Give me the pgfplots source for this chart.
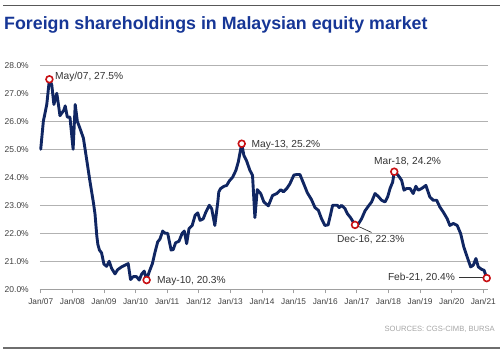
\documentclass[border=0pt]{standalone}
\usepackage{pgfplots}
\pgfplotsset{compat=1.18}
\usepackage{pgfplotstable}
\usepackage{fontspec}
\setmainfont{Liberation Sans}
\definecolor{titleblue}{RGB}{22,54,150}
\definecolor{navy}{RGB}{16,38,98}
\definecolor{mkred}{RGB}{200,16,20}
\definecolor{gridgray}{RGB}{178,178,178}
\definecolor{ticktext}{RGB}{64,64,64}
\definecolor{annot}{RGB}{51,51,51}
\definecolor{srcgray}{RGB}{165,165,165}
\definecolor{rulegray}{RGB}{110,110,110}

\pgfplotstableread{
m v
0.0 25.0
1.0 26.0
2.3 26.6
3.3 27.5
4.2 27.3
5.0 26.6
6.1 27.0
6.8 26.55
7.3 26.2
8.8 26.4
9.3 26.55
10.1 26.15
11.1 26.15
12.3 25.0
13.1 26.6
13.9 26.0
14.9 25.75
16.2 25.4
17.5 24.6
18.7 23.85
20.0 23.1
20.6 22.7
21.3 21.9
21.7 21.6
22.3 21.4
23.1 21.3
24.0 20.9
25.0 20.82
26.0 21.0
26.9 20.75
28.2 20.55
29.2 20.7
30.7 20.8
32.0 20.86
33.2 20.92
34.1 20.35
35.1 20.45
36.4 20.45
37.4 20.33
38.3 20.54
39.3 20.65
40.2 20.33
41.1 20.6
42.4 20.92
43.4 21.33
44.4 21.69
45.3 21.8
46.3 22.08
47.2 22.0
48.2 22.0
49.5 21.4
50.3 21.42
51.2 21.66
52.5 21.72
53.7 22.0
54.5 22.08
55.4 21.63
56.3 22.17
57.5 22.28
58.6 22.64
59.6 22.73
60.5 22.46
61.7 22.52
62.7 22.76
64.0 23.0
64.9 22.88
66.1 22.28
67.2 23.1
67.6 23.48
68.3 23.6
69.6 23.68
70.6 23.71
71.6 23.87
72.9 24.01
74.1 24.25
75.0 24.55
76.3 25.2
77.1 24.79
78.1 24.6
79.4 24.25
80.4 24.07
81.3 22.56
82.2 23.56
83.5 23.42
84.7 23.12
86.4 22.98
88.0 23.35
89.6 23.42
91.1 23.56
92.1 23.48
93.4 23.6
94.6 23.77
96.1 24.08
97.2 24.1
98.4 24.1
99.7 23.8
101.2 23.45
102.8 23.2
104.1 22.92
105.4 22.82
106.6 22.52
107.9 22.28
109.1 22.3
110.1 22.7
110.8 23.0
112.6 23.0
113.3 22.92
114.2 23.0
115.5 22.88
116.4 22.7
117.6 22.56
119.3 22.3
120.5 22.32
121.8 22.52
123.1 22.8
124.3 22.96
125.6 23.12
126.9 23.42
128.1 23.32
129.4 23.18
130.7 23.12
131.7 23.3
132.6 23.6
133.6 23.83
134.2 24.2
135.7 24.07
137.0 23.89
137.9 23.54
138.9 23.6
140.2 23.6
141.4 23.42
142.4 23.68
143.3 23.54
144.6 23.6
146.2 23.71
147.7 23.3
149.0 23.18
150.3 23.18
151.5 22.94
152.8 22.76
154.3 22.52
155.3 22.28
156.6 22.35
158.1 22.28
159.4 21.99
160.6 21.51
162.3 21.04
163.2 20.8
164.2 20.86
165.2 21.1
166.1 20.8
167.4 20.71
168.3 20.68
169.3 20.4
}\fsdata

\pgfplotstableread{
m v
3.3 27.5
40.2 20.33
76.3 25.2
119.3 22.3
134.2 24.2
169.3 20.4
}\marks

\begin{document}
\begin{tikzpicture}[x=1pt,y=1pt]
\path[use as bounding box] (0,0) rectangle (500,361);
\draw[rulegray!80!black, line width=1pt] (3,355) -- (500,355);
\node[anchor=base west, inner sep=0pt, font=\fontsize{17.8}{20}\selectfont\bfseries, text=titleblue] at (4,331.7) {Foreign shareholdings in Malaysian equity market};
\begin{axis}[
  at={(40pt,71.7pt)}, anchor=south west,
  scale only axis, width=448.3pt, height=224pt,
  xmin=-0.27, xmax=169.9, ymin=20, ymax=28,
  clip=false,
  axis x line*=bottom, axis y line*=left,
  y axis line style={draw=none},
  x axis line style={gridgray!90!black, line width=0.8pt, -},
  xtick={0,12,...,168},
  xticklabels={Jan/07,Jan/08,Jan/09,Jan/10,Jan/11,Jan/12,Jan/13,Jan/14,Jan/15,Jan/16,Jan/17,Jan/18,Jan/19,Jan/20,Jan/21},
  ytick={20,21,...,28},
  yticklabels={20.0\%,21.0\%,22.0\%,23.0\%,24.0\%,25.0\%,26.0\%,27.0\%,28.0\%},
  ymajorgrids,
  grid style={gridgray, line width=0.9pt},
  tick align=outside,
  major tick length=4pt,
  xtick style={gridgray!90!black, line width=0.8pt},
  ytick style={draw=none},
  /pgf/number format/assume math mode=true,
  xticklabel style={font=\fontsize{8.3}{10}\selectfont, text=ticktext, inner sep=0pt, yshift=-5pt},
  yticklabel style={font=\fontsize{8.5}{10}\selectfont, text=ticktext, inner sep=0pt, xshift=-7pt},
]
\addplot[navy, line width=2.9pt, line join=round, line cap=round] table[x=m,y=v] {\fsdata};
\draw[annot, line width=0.7pt] (axis cs:119.3,22.3) -- (axis cs:125.6,22.03);
\draw[annot, line width=0.8pt] (axis cs:158.7,20.41) -- (axis cs:169.3,20.41);
\addplot[only marks, mark=*, mark size=3.4pt, mark options={draw=mkred, fill=white, line width=1.6pt}] table[x=m,y=v] {\marks};
\begin{scope}[every node/.style={font=\fontsize{10.2}{12}\selectfont, text=annot, inner sep=0pt}]
\node[anchor=west] at (axis cs:5.4,27.58) {May/07, 27.5\%};
\node[anchor=west] at (axis cs:44.1,20.30) {May-10, 20.3\%};
\node[anchor=west] at (axis cs:80.0,25.15) {May-13, 25.2\%};
\node[anchor=west] at (axis cs:126.5,24.56) {Mar-18, 24.2\%};
\node[anchor=west] at (axis cs:112.4,21.76) {Dec-16, 22.3\%};
\node[anchor=east] at (axis cs:157.3,20.41) {Feb-21, 20.4\%};
\end{scope}
\end{axis}
\node[anchor=base east, inner sep=0pt, font=\fontsize{7.6}{9}\selectfont, text=srcgray] at (495,29) {SOURCES: CGS-CIMB, BURSA};
\draw[rulegray, line width=2pt] (3,13) -- (500,13);
\end{tikzpicture}
\end{document}
